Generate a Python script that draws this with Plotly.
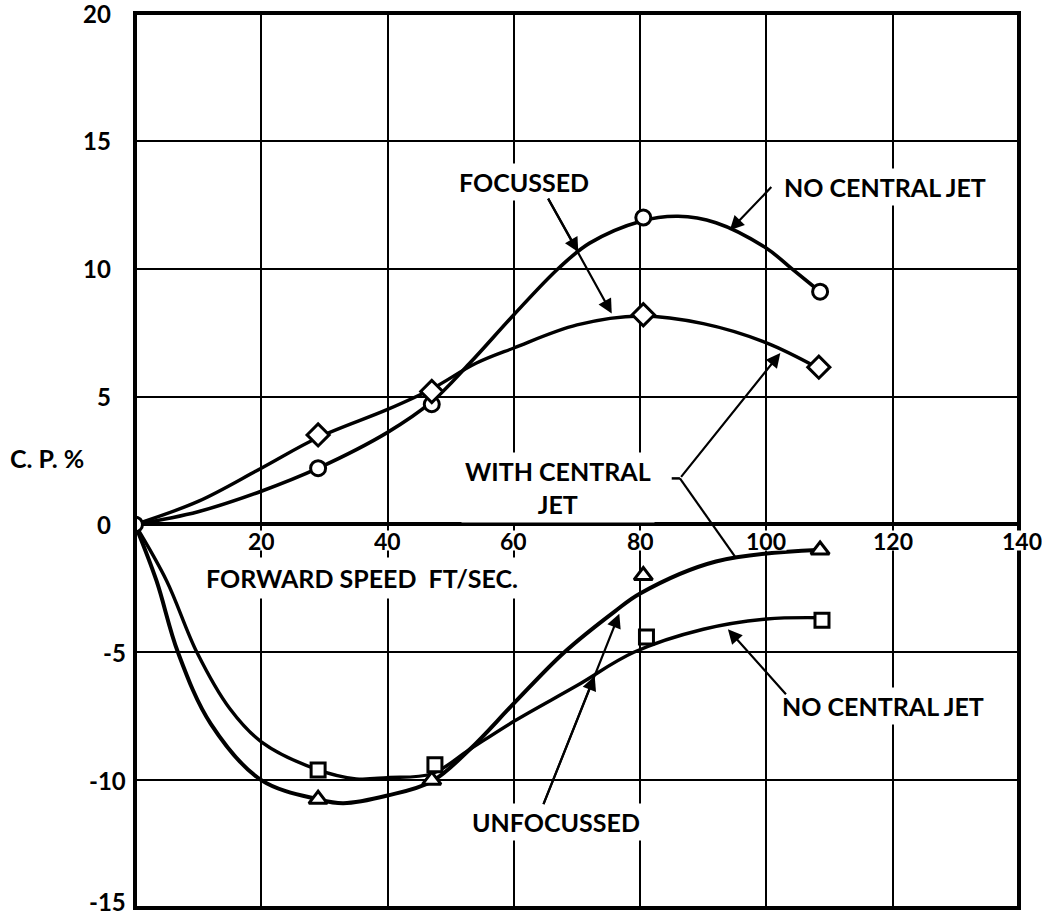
import plotly.graph_objects as go

# ---- data ----
# faired curves (upper pair)
nocj_curve_x = [0, 10, 20, 29, 40, 47, 53, 60, 67, 72, 80, 86, 92, 100, 104, 108.5]
nocj_curve_y = [0, 0.5, 1.3, 2.2, 3.6, 4.8, 6.3, 8.2, 10.0, 11.0, 11.85, 12.05, 11.8, 10.8, 10.0, 9.1]
cj_curve_x = [0, 10, 20, 29, 40, 47, 54, 60, 70, 80, 90, 100, 108.3]
cj_curve_y = [0, 0.9, 2.2, 3.4, 4.5, 5.3, 6.3, 6.9, 7.8, 8.15, 7.85, 7.1, 6.1]
# faired curves (lower pair)
ucj_curve_x = [0, 3.4, 6.8, 12, 20, 29, 33, 40, 47, 53, 60, 68, 76, 80, 92, 108]
ucj_curve_y = [0, -2.2, -5.0, -7.8, -10.0, -10.75, -10.9, -10.6, -10.05, -8.8, -7.0, -5.0, -3.4, -2.7, -1.45, -1.0]
unocj_curve_x = [0, 5, 9.8, 15, 20, 29, 35, 40, 47, 53, 60, 70, 79, 90, 100, 109]
unocj_curve_y = [0, -2.2, -5.0, -7.2, -8.5, -9.6, -9.95, -9.9, -9.75, -8.8, -7.7, -6.3, -5.0, -4.1, -3.7, -3.65]

# measured points
circle_x = [0, 29, 47, 80.5, 108.5]
circle_y = [0, 2.2, 4.7, 12.0, 9.1]
diamond_x = [29, 47, 80.5, 108.3]
diamond_y = [3.5, 5.2, 8.2, 6.15]
triangle_x = [29, 47, 80.5, 108.5]
triangle_y = [-10.75, -10.0, -2.0, -1.0]
square_x = [29, 47.5, 81, 108.8]
square_y = [-9.6, -9.4, -4.4, -3.75]

x_ticks = [20, 40, 60, 80, 100, 120, 140]
y_ticks = [20, 15, 10, 5, 0, -5, -10, -15]

FONT = "Lato"
fig = go.Figure()

for cx, cy, w in [(nocj_curve_x, nocj_curve_y, 3.6), (cj_curve_x, cj_curve_y, 3.4),
                  (ucj_curve_x, ucj_curve_y, 4.0), (unocj_curve_x, unocj_curve_y, 3.4)]:
    fig.add_trace(go.Scatter(x=cx, y=cy, mode="lines",
                             line=dict(color="black", width=w, shape="spline", smoothing=1.0),
                             hoverinfo="skip", showlegend=False))

for mx, my, sym, sz in [(circle_x, circle_y, "circle", 15),
                        (diamond_x, diamond_y, "diamond", 17),
                        (triangle_x, triangle_y, "triangle-up", 16),
                        (square_x, square_y, "square", 14)]:
    fig.add_trace(go.Scatter(x=mx, y=my, mode="markers",
                             marker=dict(symbol=sym, size=sz, color="white",
                                         line=dict(color="black", width=3)),
                             showlegend=False))

def f(size):
    return dict(family=FONT, size=size, color="black", weight="bold")

ann = []
# x tick labels (inside plot, below zero line)
for v in x_ticks:
    ann.append(dict(x=v, y=0, xref="x", yref="y", text=str(v), showarrow=False,
                    yshift=-16, xshift=3 if v == 140 else 0, height=19, valign="middle",
                    font=f(23), bgcolor="white", borderpad=0))
# y tick labels
for v in y_ticks:
    ann.append(dict(x=0, y=v, xref="paper", yref="y", text=str(v), showarrow=False,
                    xanchor="right", xshift=-22 if v >= 0 else -7,
                    yshift=7 if v == -15 else 0, font=f(24)))

ann.append(dict(x=-0.1437, y=2.6, xref="paper", yref="y", text="C. P. %", showarrow=False,
                xanchor="left", font=f(25)))
ann.append(dict(x=36, y=-2.1, xref="x", yref="y", text="FORWARD SPEED&nbsp;&nbsp;FT/SEC.", showarrow=False,
                font=f(25), bgcolor="white", borderpad=5))

# text labels
lab = dict(showarrow=False, xref="x", yref="y", bgcolor="white", borderpad=3, font=f(25))
ann.append(dict(x=61.6, y=13.4, text="FOCUSSED", **lab))
ann.append(dict(x=118.8, y=13.2, text="NO CENTRAL JET", **lab))
ann.append(dict(x=67.0, y=1.45, text="WITH CENTRAL<br>JET", align="center", **lab))
ann.append(dict(x=118.4, y=-7.1, text="NO CENTRAL JET", **lab))
ann.append(dict(x=66.7, y=-11.65, text="UNFOCUSSED", **lab))

# arrows
arr = dict(xref="x", yref="y", axref="x", ayref="y", text="", showarrow=True,
           arrowhead=2, arrowsize=1.3, arrowwidth=2.2, arrowcolor="black")
ann.append(dict(x=70.2, y=10.65, ax=65.3, ay=12.8, **arr))
ann.append(dict(x=75.5, y=8.25, ax=65.3, ay=12.8, **arr))
ann.append(dict(x=94.2, y=11.5, ax=101.0, ay=13.25, **arr))
ann.append(dict(x=102.2, y=6.7, ax=86.3, ay=1.8, **arr))
ann.append(dict(x=93.9, y=-4.1, ax=103.3, ay=-6.7, **arr))
ann.append(dict(x=72.8, y=-5.93, ax=64.6, ay=-11.0, **arr))
ann.append(dict(x=76.7, y=-3.49, ax=64.6, ay=-11.0, **arr))

shapes = [
    dict(type="line", xref="x", yref="y", x0=86.3, y0=1.8, x1=95.0, y1=-1.25,
         line=dict(color="black", width=2.2)),
    dict(type="line", xref="x", yref="y", x0=85.0, y0=1.8, x1=86.3, y1=1.8,
         line=dict(color="black", width=2.5)),
    dict(type="rect", xref="paper", yref="paper", x0=0, y0=0, x1=1, y1=1,
         line=dict(color="black", width=4), layer="above"),
]

fig.update_layout(
    width=1052, height=915,
    margin=dict(l=135, r=33, t=13, b=7),
    paper_bgcolor="white", plot_bgcolor="white",
    annotations=ann, shapes=shapes, showlegend=False,
    xaxis=dict(range=[0, 140], tickvals=x_ticks, showticklabels=False, ticks="",
               showgrid=True, gridcolor="black", gridwidth=2, zeroline=False, showline=False),
    yaxis=dict(range=[-15, 20], tickvals=y_ticks, showticklabels=False, ticks="",
               showgrid=True, gridcolor="black", gridwidth=2,
               zeroline=True, zerolinecolor="black", zerolinewidth=4, showline=False),
)

fig.write_html("out.html", config={"displayModeBar": False},
               post_script="document.body.style.margin='0';document.body.style.overflow='hidden';")
